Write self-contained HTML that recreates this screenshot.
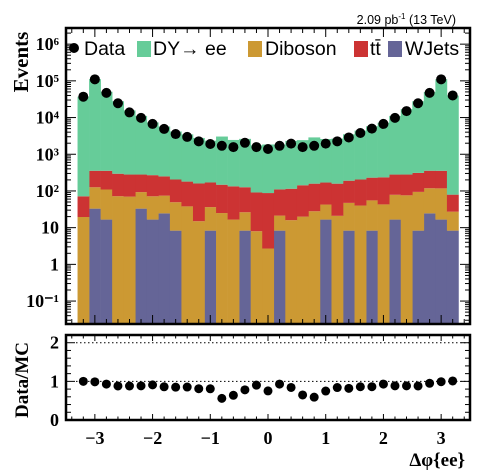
<!DOCTYPE html>
<html><head><meta charset="utf-8"><style>
html,body{margin:0;padding:0;background:#fff;}
svg{display:block;}
.lab{font-family:"Liberation Serif",serif;font-weight:bold;font-size:18px;fill:#000;}
.leg{font-family:"Liberation Sans",sans-serif;font-size:19.5px;fill:#000;}
</style></head><body>
<svg id="c" width="496" height="472" viewBox="0 0 496 472" xmlns="http://www.w3.org/2000/svg"></svg>
<script>
const binCenters=[-3.2,-3.0,-2.8,-2.6,-2.4,-2.2,-2.0,-1.8,-1.6,-1.4,-1.2,-1.0,-0.8,-0.6,-0.4,-0.2,0.0,0.2,0.4,0.6,0.8,1.0,1.2,1.4,1.6,1.8,2.0,2.2,2.4,2.6,2.8,3.0,3.2];
const dataVals=[37000,110000,47000,24500,13800,9800,6700,4900,3550,2970,2250,1900,1700,1570,2050,1570,1390,1700,1950,1570,1700,1950,2250,2870,3800,5000,6700,9800,15000,24500,47000,110000,40000];
const dyVals=[36900,111000,50200,27500,15400,10800,7100,5450,3970,3300,2620,2180,2890,2320,2500,1650,1760,1720,2200,2280,2720,2430,2520,3310,4210,5570,6970,10800,16700,27500,49100,110600,39500];
const ttVals=[52,229,245,223,210,187,198,175,156,142,145,134,123,117,100,83,85,89,99,123,130,127,137,143,165,175,192,201,204,216,237,237,52];
const dibosonVals=[19.5,93,93,72,70,60,55,50,41,38,15,28,25,16.6,18,8,2.7,13,16,20,28,26,21,39,40,47,43,62,76,86,94,101,19];
const wjetsVals=[0,33,16.6,0,0,33,16.6,24.5,8.3,0,0,8.3,0,0,8.3,0,0,8.3,0,0,0,16.6,0,8.3,0,8.3,0,16.6,0,8.3,24.5,16.6,8.3];
const yTickLabels=["10⁻¹","1","10","10²","10³","10⁴","10⁵","10⁶"];
const xTickLabels=["−3","−2","−1","0","1","2","3"];
const ratioTickLabels=["0","1","2"];
const binWidth=0.2;

const NS="http://www.w3.org/2000/svg";
const svg=document.getElementById('c');
function mk(t,a,p){const e=document.createElementNS(NS,t);for(const k in a)e.setAttribute(k,a[k]);(p||svg).appendChild(e);return e;}
const X0=66,X1=470,T0=28,T1=324,R0=335,R1=420;
const xs=v=>X0+(v+3.5)/7*(X1-X0);
const LMIN=-1.625,LMAX=6.44;
const ys=v=>{const l=Math.log10(Math.max(v,1e-4));return T1-(l-LMIN)/(LMAX-LMIN)*(T1-T0);};
const rs=v=>R1-v/2.2*(R1-R0);

const gStack=mk('g',{});


const comps=[["wjets",wjetsVals,"#656597"],["diboson",dibosonVals,"#cc9933"],["ttbar",ttVals,"#cc3333"],["dy",dyVals,"#66cc99"]];
const cum=binCenters.map(()=>0);
comps.forEach(([nm,arr,col])=>{
  binCenters.forEach((c,i)=>{
    const lo=cum[i],hi=cum[i]+arr[i];cum[i]=hi;
    if(arr[i]<=0)return;
    const yt=Math.max(ys(hi),T0),yb=lo>0?Math.min(ys(lo),T1):T1;
    if(yb<=yt)return;
    const r=mk('rect',{x:xs(c-binWidth/2),y:yt,width:xs(c+binWidth/2)-xs(c-binWidth/2)+0.3,height:yb-yt,fill:col},gStack);
    
    
  });
});

binCenters.forEach((c,i)=>{
  const p=mk('circle',{cx:xs(c),cy:ys(dataVals[i]),r:5,fill:'#000'});
  
  
});

const f1=mk('rect',{x:X0,y:T0,width:X1-X0,height:T1-T0,fill:'none',stroke:'#000','stroke-width':2.5});

const f2=mk('rect',{x:X0,y:R0,width:X1-X0,height:R1-R0,fill:'none',stroke:'#000','stroke-width':2.5});


for(let k=-17;k<=17;k++){
  const v=k*0.2;const x=xs(v);const major=Math.abs(v-Math.round(v))<1e-6;
  const L=major?9:5;
  [[T1,-1],[T0,1],[R1,-1],[R0,1]].forEach(([y,d])=>{const L2=(y===R1||y===R0)?(major?6:3.5):L;mk('line',{x1:x,x2:x,y1:y,y2:y+d*L2,stroke:'#000','stroke-width':1});});
}
xTickLabels.forEach((t,i)=>{const v=i-3;const e=mk('text',{x:xs(v),y:444,'text-anchor':'middle',class:'lab'});e.textContent=t;
});

for(let d=-2;d<=6;d++){
  for(let m=1;m<=9;m++){
    const v=m*Math.pow(10,d);const y=ys(v);if(y<T0||y>T1)continue;
    const L=m===1?10:5;
    mk('line',{x1:X0,x2:X0+L,y1:y,y2:y,stroke:'#000','stroke-width':1});
    mk('line',{x1:X1,x2:X1-L,y1:y,y2:y,stroke:'#000','stroke-width':1});
  }
}
yTickLabels.forEach((t,i)=>{const v=Math.pow(10,i-1);const e=mk('text',{x:59,y:ys(v)+6,'text-anchor':'end',class:'lab'});e.textContent=t;
});

for(let k=0;k<=11;k++){const v=k*0.2;const y=rs(v);const major=k%5===0;const L=major?9:5;
 mk('line',{x1:X0,x2:X0+L,y1:y,y2:y,stroke:'#000','stroke-width':1});
 mk('line',{x1:X1,x2:X1-L,y1:y,y2:y,stroke:'#000','stroke-width':1});}
[1,2].forEach(v=>{const l=mk('line',{x1:X0+10,x2:X1,y1:rs(v),y2:rs(v),stroke:'#000','stroke-width':1,'stroke-dasharray':'1.5,2.5'});
});
ratioTickLabels.forEach((t,i)=>{const e=mk('text',{x:59,y:rs(i)+6,'text-anchor':'end',class:'lab'});e.textContent=t;
});
binCenters.forEach((c,i)=>{const tot=dyVals[i]+ttVals[i]+dibosonVals[i]+wjetsVals[i];
 const p=mk('circle',{cx:xs(c),cy:rs(dataVals[i]/tot),r:4.5,fill:'#000'});
 });
</script>
<div style="position:absolute;left:0;top:0;width:496px;height:472px;pointer-events:none;">
<svg width="496" height="472" xmlns="http://www.w3.org/2000/svg">
<text x="456" y="24" text-anchor="end" font-family="Liberation Sans, sans-serif" font-size="12.5">2.09 pb<tspan font-size="8" dy="-5">-1</tspan><tspan dy="5"> (13 TeV)</tspan></text>
<g>
<circle cx="74" cy="48" r="5" fill="#000"/>
<text x="84" y="55" class="leg">Data</text>
<rect x="137" y="41" width="14" height="16" fill="#66cc99"/>
<text x="153" y="55" class="leg">DY→ ee</text>
<rect x="248" y="41" width="14" height="16" fill="#cc9933"/>
<text x="265" y="55" class="leg">Diboson</text>
<rect x="354" y="41" width="14" height="16" fill="#cc3333"/>
<text x="370" y="55" class="leg">tt̄</text>
<rect x="388" y="41" width="14" height="16" fill="#656597"/>
<text x="405" y="55" class="leg">WJets</text>
</g>
<text transform="translate(28,62) rotate(-90)" text-anchor="middle" font-family="Liberation Serif, serif" font-weight="bold" font-size="21">Events</text>
<text transform="translate(28,380) rotate(-90)" text-anchor="middle" font-family="Liberation Serif, serif" font-weight="bold" font-size="19">Data/MC</text>
<text x="465" y="466" text-anchor="end" font-family="Liberation Serif, serif" font-weight="bold" font-size="19">Δφ{ee}</text>
</svg></div>
</body></html>
